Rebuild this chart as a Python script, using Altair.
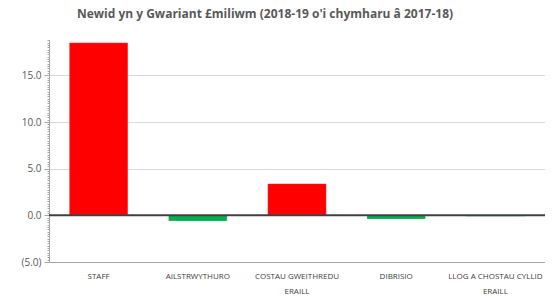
import altair as alt
import pandas as pd

categories = ["STAFF", "AILSTRWYTHURO", "COSTAU GWEITHREDU\nERAILL", "DIBRISIO", "LLOG A CHOSTAU CYLLID\nERAILL"]
values = [18.5, -0.6, 3.4, -0.4, -0.1]
colors = ["#FF0000", "#00B050", "#FF0000", "#00B050", "#00B050"]
major_ticks = [-5, 0, 5, 10, 15]
minor_ticks = [x / 4 for x in range(-20, 76)]

df = pd.DataFrame({"cat": categories, "val": values, "col": colors})

yscale = alt.Scale(domain=[-5, 18.8], nice=False, zero=False)
font = "Open Sans"

bars = alt.Chart(df).mark_bar(stroke="#ffffff", strokeOpacity=0.4, strokeWidth=0.5).encode(
    x=alt.X("cat:N", sort=categories, scale=alt.Scale(paddingInner=0.41, paddingOuter=0.205),
            axis=alt.Axis(title=None, labelAngle=0, labelExpr="split(datum.label, '\\n')",
                          labelFont=font, labelFontSize=8, labelColor="#404040",
                          labelPadding=10, ticks=False, domainColor="#a6a6a6",
                          labelLineHeight=15)),
    y=alt.Y("val:Q", scale=yscale,
            axis=alt.Axis(title=None, values=major_ticks, grid=True, gridColor="#d9d9d9",
                          labelExpr="datum.value < 0 ? '(' + format(-datum.value, '.1f') + ')' : format(datum.value, '.1f')",
                          labelFont=font, labelFontSize=10, labelColor="#595959",
                          tickSize=5, tickColor="#a6a6a6", domainColor="#a6a6a6", labelPadding=3)),
    color=alt.Color("col:N", scale=None),
)

minor = alt.Chart(pd.DataFrame({"v": [0]})).mark_rule(opacity=0).encode(
    y=alt.Y("v:Q", scale=yscale,
            axis=alt.Axis(title=None, orient="left", values=minor_ticks, labels=False, grid=False,
                          tickSize=2, tickColor="#a6a6a6", domain=False, offset=0)),
)

zero = alt.Chart(pd.DataFrame({"z": [0]})).mark_rule(color="#404040", strokeWidth=2).encode(
    y=alt.Y("z:Q", scale=yscale)
)

chart = alt.layer(bars, zero, minor).resolve_axis(y="independent").properties(
    width=496, height=222,
    padding={"left": 41, "top": 32, "right": 0, "bottom": 36},
    autosize=alt.AutoSizeParams(type="none"),
    title=alt.Title("Newid yn y Gwariant £miliwm (2018-19 o'i chymharu â 2017-18)",
                    font=font, fontSize=12, fontWeight="bold", color="#595959",
                    anchor="middle", dx=-32, offset=19),
).configure_view(stroke=None)

chart.save("out.html", embed_options={"renderer": "svg", "actions": False})
